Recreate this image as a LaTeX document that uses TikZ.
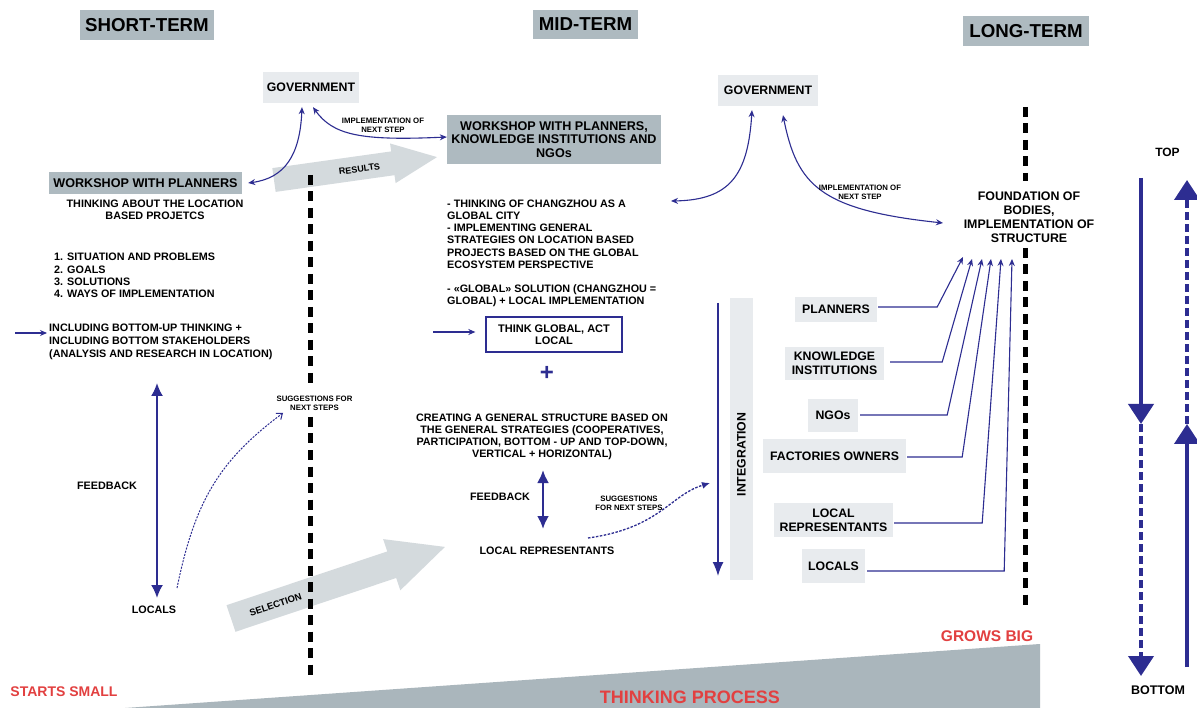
\documentclass[tikz,border=0pt]{standalone}
\usepackage{fontspec}
\setmainfont{Liberation Sans}
\usetikzlibrary{arrows.meta}
\definecolor{hdrgray}{RGB}{174,186,192}
\definecolor{boxgray}{RGB}{232,235,238}
\definecolor{arrgray}{RGB}{212,218,221}
\definecolor{wedgegray}{RGB}{170,182,188}
\definecolor{navy}{RGB}{45,45,145}
\definecolor{redtxt}{RGB}{226,64,64}
\newcommand\fsz[2]{\fontsize{#1}{#2}\selectfont}
\begin{document}
\begin{tikzpicture}[x=1pt,y=-1pt,
  every node/.style={font=\bfseries, inner sep=0pt, text=black},
  hdr/.style={fill=hdrgray, font=\bfseries\fsz{18.7}{20}, minimum height=30},
  lbox/.style={fill=boxgray, font=\bfseries\fsz{12.3}{13.6}, align=center},
  dbox/.style={fill=hdrgray, font=\bfseries\fsz{12.6}{13.5}, align=center},
  body/.style={font=\bfseries\fsz{10.8}{12.2}},
  smalltxt/.style={font=\bfseries\fsz{7.8}{9}, align=center},
  conn/.style={draw=navy, line width=1.1pt, -{Stealth[length=7pt,width=6pt]}},
  dconn/.style={conn, {Stealth[length=7pt,width=6pt]}-{Stealth[length=7pt,width=6pt]}},
  fbarrow/.style={draw=navy, line width=2pt, {Latex[length=13pt,width=12pt]}-{Latex[length=13pt,width=12pt]}},
  bigarr/.style={draw=navy, line width=4pt, -{Triangle[length=20pt,width=25pt]}},
  divider/.style={draw=black, line width=5pt, dash pattern=on 10pt off 6.5pt}
]
\useasboundingbox (0,0) rectangle (1197,708);
\fill[white] (0,0) rectangle (1197,708);

% bottom wedge
\fill[wedgegray] (125,708) -- (1040,644) -- (1040,708) -- cycle;

% big gray arrows
\begin{scope}[shift={(274,180)}, rotate=8]
  \fill[arrgray] (0,-12) -- (120,-12) -- (120,-20) -- (164.6,0) -- (120,20) -- (120,12) -- (0,12) -- cycle;
\end{scope}
\begin{scope}[shift={(231,618.5)}, rotate=18.5]
  \fill[arrgray] (0,-14) -- (169.5,-14) -- (169.5,-27) -- (225.6,0) -- (169.5,27) -- (169.5,14) -- (0,14) -- cycle;
\end{scope}
\node[rotate=8, font=\bfseries\fsz{9}{10}] (res) at (359.5,169) {RESULTS};
\node[rotate=18.5, font=\bfseries\fsz{9.5}{10}] (sel) at (275.5,605) {SELECTION};

% dividers
\draw[divider] (310,175) -- (310,385);
\draw[divider] (310,417) -- (310,680);
\draw[divider] (1025,107) -- (1025,181);
\draw[divider] (1025,248) -- (1025,610);

% headers
\node[hdr, minimum width=134] (st) at (147,25) {SHORT-TERM};
\node[hdr, minimum width=105, minimum height=29] (mt) at (585.5,24.5) {MID-TERM};
\node[hdr, minimum width=126] (lt) at (1026,31) {LONG-TERM};

% short term
\node[lbox, minimum width=96, minimum height=31] (gov1) at (311,87.5) {GOVERNMENT};
\node[dbox, minimum width=193, minimum height=22] (ws1) at (145.5,183) {WORKSHOP WITH PLANNERS};
\node[body, align=center, font=\bfseries\fsz{10.8}{12.3}] (tl) at (155,210) {THINKING ABOUT THE LOCATION\\BASED PROJETCS};
\node[body, align=left, anchor=west, font=\bfseries\fsz{10.8}{12.3}] (lst) at (54,275.7) {1. SITUATION AND PROBLEMS\\2. GOALS\\3. SOLUTIONS\\4. WAYS OF IMPLEMENTATION};
\node[body, align=left, anchor=west, font=\bfseries\fsz{10.8}{12.9}] (incl) at (49,341.5) {INCLUDING BOTTOM-UP THINKING +\\INCLUDING BOTTOM STAKEHOLDERS\\(ANALYSIS AND RESEARCH IN LOCATION)};
\coordinate (inA) at (15,333);
\draw[conn, line width=1.5pt, shorten >=2pt] (inA) -- (inA -| incl.west);
\node[body] (fb1) at (107,486) {FEEDBACK};
\node[body] (loc1) at (154,610) {LOCALS};
\coordinate (fbt) at (157,383);
\coordinate (fbb) at (157,598);
\draw[fbarrow] (fbt) -- (fbb);
\coordinate (dl1) at (177,588);
\coordinate (dl2) at (283,413);
\draw[navy, line width=1pt, dash pattern=on 2pt off 1.3pt, -{Straight Barb[length=5pt,width=8pt]}] (dl1) .. controls (195,500) and (220,460) .. (dl2);
\node[smalltxt] (sug1) at (314.5,403.5) {SUGGESTIONS FOR\\NEXT STEPS};

% mid term
\node[dbox, minimum width=214, minimum height=49] (ws2) at (554,139.5) {WORKSHOP WITH PLANNERS,\\KNOWLEDGE INSTITUTIONS AND\\NGOs};
\draw[dconn] ([shift={(-9,4)}]gov1.south) .. controls (300,155) and (285,178) .. ([xshift=6pt]ws1.east);
\draw[dconn] ([shift={(2,4)}]gov1.south) .. controls (333,135) and (360,141) .. ([shift={(0,-2.5)}]ws2.west);
\node[smalltxt] (imp1) at (383,125.5) {IMPLEMENTATION OF\\NEXT STEP};
\node[body, align=left, anchor=west] (gc) at (447,253.5) {- THINKING OF CHANGZHOU AS A\\GLOBAL CITY\\- IMPLEMENTING GENERAL\\STRATEGIES ON LOCATION BASED\\PROJECTS BASED ON THE GLOBAL\\ECOSYSTEM PERSPECTIVE\\[12.1pt]- «GLOBAL» SOLUTION (CHANGZHOU =\\GLOBAL) + LOCAL IMPLEMENTATION};
\node[draw=navy, line width=1.3pt, minimum width=136, minimum height=35, align=center, font=\bfseries\fsz{11}{12.3}] (tgal) at (554,334.5) {THINK GLOBAL, ACT\\LOCAL};
\coordinate (tga) at (433,332);
\draw[conn, line width=1.3pt, shorten >=10pt] (tga) -- (tga -| tgal.west);
\node[text=navy, font=\bfseries\fsz{24}{24}] (plus) at (547,373) {+};
\node[body, align=center] (cr) at (542,437) {CREATING A GENERAL STRUCTURE BASED ON\\THE GENERAL STRATEGIES (COOPERATIVES,\\PARTICIPATION, BOTTOM - UP AND TOP-DOWN,\\VERTICAL + HORIZONTAL)};
\node[body] (fb2) at (500,497) {FEEDBACK};
\coordinate (fb2t) at (543,470);
\coordinate (fb2b) at (543,529);
\draw[fbarrow, line width=2.5pt] (fb2t) -- (fb2b);
\node[body] (lrep) at (547,551) {LOCAL REPRESENTANTS};
\coordinate (dm1) at (588,538);
\coordinate (dm2) at (710,483);
\draw[navy, line width=1.3pt, dash pattern=on 2.5pt off 1.5pt, -{Latex[length=8pt,width=7pt]}] (dm1) .. controls (660,528) and (670,495) .. (dm2);
\node[smalltxt] (sug2) at (629,503.5) {SUGGESTIONS\\FOR NEXT STEPS};

% integration
\fill[boxgray] (730,298) rectangle (753,580);
\node[rotate=90, font=\bfseries\fsz{12.3}{13}] (integ) at (741.5,454.5) {INTEGRATION};
\coordinate (ia) at (718,303);
\coordinate (ib) at (718,576);
\draw[navy, line width=1.5pt, -{Latex[length=14pt,width=11pt]}] (ia) -- (ib);

% long term
\node[lbox, minimum width=100, minimum height=31] (gov2) at (768,90.5) {GOVERNMENT};
\coordinate (gcl) at (671,201);
\draw[dconn] ([shift={(-16,4)}]gov2.south) .. controls (748,175) and (730,200) .. (gcl);
\node[align=center, font=\bfseries\fsz{12.4}{13.9}] (fnd) at (1029,217) {FOUNDATION OF\\BODIES,\\IMPLEMENTATION OF\\STRUCTURE};
\coordinate (fndin) at (943,223);
\draw[dconn] ([shift={(15,9)}]gov2.south) .. controls (797,185) and (820,210) .. (fndin);
\node[smalltxt] (imp2) at (860,192.5) {IMPLEMENTATION OF\\NEXT STEP};

\node[lbox, minimum width=82, minimum height=25] (pl) at (836,309.5) {PLANNERS};
\node[lbox, minimum width=99, minimum height=33] (ki) at (834.5,363.5) {KNOWLEDGE\\INSTITUTIONS};
\node[lbox, minimum width=50, minimum height=33] (ngo) at (833,415.5) {NGOs};
\node[lbox, minimum width=143, minimum height=34] (fo) at (834.5,456) {FACTORIES OWNERS};
\node[lbox, minimum width=119, minimum height=34] (lr) at (833.5,520) {LOCAL\\REPRESENTANTS};
\node[lbox, minimum width=63, minimum height=34] (lo) at (833.5,566) {LOCALS};

\coordinate (t1) at (963,257);
\coordinate (t2) at (972,259);
\coordinate (t3) at (982,259);
\coordinate (t4) at (991,259);
\coordinate (t5) at (1001,259);
\coordinate (t6) at (1012,259);
\draw[conn] ([shift={(1,-2.5)}]pl.east) -- ++(59,0) -- (t1);
\draw[conn] ([shift={(6,-1.5)}]ki.east) -- ++(52,0) -- (t2);
\draw[conn] ([shift={(2,-0.5)}]ngo.east) -- ++(87,0) -- (t3);
\draw[conn] ([shift={(1,1)}]fo.east) -- ++(55,0) -- (t4);
\draw[conn] ([shift={(1,3)}]lr.east) -- ++(88,0) -- (t5);
\draw[conn] ([shift={(2,5)}]lo.east) -- ++(137,0) -- (t6);

% top / bottom
\node[font=\bfseries\fsz{12}{13}] (top) at (1167.5,152) {TOP};
\node[font=\bfseries\fsz{12.5}{13}] (bot) at (1158,690) {BOTTOM};
\coordinate (la) at (1141,178);
\coordinate (lb) at (1141,424);
\coordinate (lc) at (1141,676);
\coordinate (ra) at (1187,667);
\coordinate (rb) at (1187,424);
\coordinate (rc) at (1187,180);
\draw[bigarr] (la) -- (lb);
\draw[bigarr, dash pattern=on 8pt off 4pt] (lb) -- (lc);
\draw[bigarr] (ra) -- (rb);
\draw[bigarr, dash pattern=on 8pt off 4pt] (rb) -- (rc);

% red labels
\node[text=redtxt, font=\bfseries\fsz{14}{15}] (ss) at (64,692) {STARTS SMALL};
\node[text=redtxt, font=\bfseries\fsz{15.5}{16}] (gb) at (987,636) {GROWS BIG};
\node[text=redtxt, font=\bfseries\fsz{18}{19}] (tp) at (690,697) {THINKING PROCESS};
\end{tikzpicture}
\end{document}
